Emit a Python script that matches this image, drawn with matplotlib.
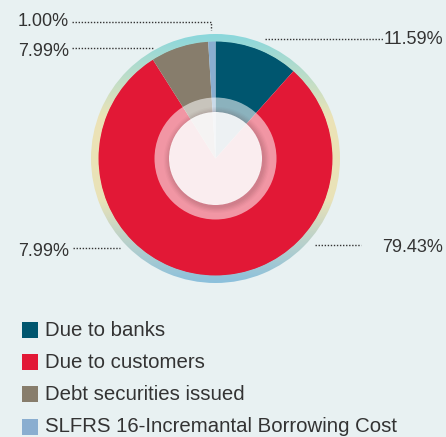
import numpy as np
import matplotlib
matplotlib.use("Agg")
import matplotlib.pyplot as plt
from matplotlib.patches import Wedge, Circle, Rectangle
from matplotlib.colors import LinearSegmentedColormap

# Funding mix
categories = ["Due to banks", "Due to customers", "Debt securities issued",
              "SLFRS 16-Incremantal Borrowing Cost"]
shares = [11.59, 79.43, 7.99, 1.00]
colors = ["#00566f", "#e21836", "#877d6c", "#8aaed0"]

# Callout labels: (text, text x, text y, line points)
callouts = [
    ("1.00%",  18, 22, [(72, 21.7), (211, 21.7), (211, 30)], "left"),
    ("7.99%",  18, 51, [(72, 48.3), (153, 48.3)], "left"),
    ("11.59%", 443, 40, [(265, 39.3), (383, 39.3)], "right"),
    ("79.43%", 443, 247, [(315, 245), (361, 245)], "right"),
    ("7.99%",  18, 252, [(73, 248.3), (120, 248.3)], "left"),
]

W, H = 446, 437
BG = "#e8f1f2"
TXT = "#333333"
plt.rcParams["font.family"] = ["Liberation Sans", "DejaVu Sans"]

fig = plt.figure(figsize=(W / 100, H / 100), dpi=100, facecolor=BG)
ax = fig.add_axes([0, 0, 1, 1])
ax.set_facecolor(BG)

cx, cy = 215.5, H - 158.5
r_pie, r_ring = 117.5, 124.5

# Main pie, clockwise from 12 o'clock
ax.pie(shares, colors=colors, startangle=90, counterclock=False,
       center=(cx, cy), radius=r_pie, frame=True,
       wedgeprops=dict(linewidth=0))

# Outer rim with a vertical colour gradient
rim_cmap = LinearSegmentedColormap.from_list(
    "rim", ["#8bc0dc", "#e9e2b8", "#ece3b6", "#8ad7dc"])
grad = np.linspace(0, 1, 256).reshape(-1, 1)
im = ax.imshow(grad, cmap=rim_cmap, origin="lower", aspect="auto",
               extent=(cx - r_ring, cx + r_ring, cy - r_ring, cy + r_ring),
               zorder=2)
rim = Wedge((cx, cy), r_ring, 0, 360, width=r_ring - r_pie + 0.5,
            transform=ax.transData)
im.set_clip_path(rim)

# Translucent inner band and soft shadow
ax.add_patch(Wedge((cx, cy), 61, 0, 360, width=15, facecolor="white",
                   alpha=0.55, linewidth=0, zorder=3))
for k, a in enumerate([0.05, 0.05, 0.05, 0.04, 0.03]):
    ax.add_patch(Circle((cx + 1.2, cy - 1.5), 46.5 + 1.3 * (k + 1),
                        facecolor="#5a2a30", alpha=a, linewidth=0, zorder=3))
ax.add_patch(Circle((cx, cy), 46.5, facecolor="white", alpha=0.93,
                    linewidth=0, zorder=4))

# Callouts
for text, tx, ty, pts, ha in callouts:
    xs = [p[0] for p in pts]
    ys = [H - p[1] for p in pts]
    ax.plot(xs, ys, color="#333333", linewidth=1.0, linestyle=(0, (1, 1.2)),
            zorder=5)
    ax.text(tx, H - ty, text, ha=ha, va="center", fontsize=13, color=TXT,
            zorder=6)

# Legend
for i, (name, col) in enumerate(zip(categories, colors)):
    y = H - (330 + 32.2 * i)
    ax.add_patch(Rectangle((22, y - 8), 16, 16, facecolor=col, linewidth=0))
    ax.text(45, y, name, ha="left", va="center", fontsize=14.7, color=TXT)

ax.set_xlim(0, W)
ax.set_ylim(0, H)
ax.set_aspect("auto")
ax.axis("off")

fig.savefig("out.png", dpi=100, facecolor=BG)
